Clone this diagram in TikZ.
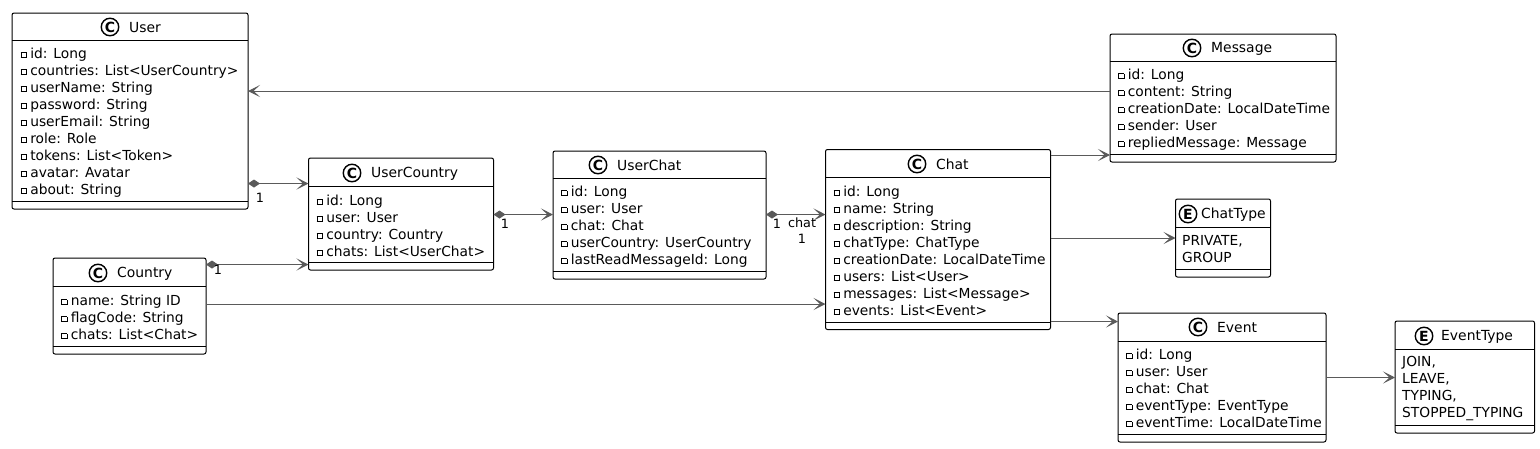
\documentclass[tikz,border=0pt]{standalone}
\usepackage{fontspec}
\setmainfont{DejaVu Sans}
\usetikzlibrary{arrows.meta}
\definecolor{linkgray}{HTML}{5A5A5A}
\tikzset{classbox/.style = {draw, rounded corners = 2, line width = 1, inner sep = 0, outer sep = 0, anchor = north west}}
\tikzset{badge/.style = {draw, circle, line width = 1.4, inner sep = 0, minimum size = 17.5, font = \fontsize{14}{14}\selectfont\bfseries}}
\tikzset{classname/.style = {anchor = west, inner sep = 0, font = \fontsize{13.9}{17}\selectfont}}
\tikzset{members/.style = {anchor = north west, inner sep = 0, align = left, font = \fontsize{13.8}{17}\selectfont}}
\tikzset{multi/.style = {inner sep = 0, font = \fontsize{12.8}{13}\selectfont}}
\tikzset{sep/.style = {line width = 1}}
\tikzset{assoc/.style = {linkgray, line width = 1, -{Stealth[length = 12, width = 12, inset = 6.5]}}}
\tikzset{owns/.style = {linkgray, line width = 1, {Diamond[length = 12, width = 8]}-{Stealth[length = 12, width = 12, inset = 6.5]}}}
\newcommand{\mbr}{\raisebox{1pt}{\setlength{\fboxsep}{0pt}\setlength{\fboxrule}{0.8pt}\fbox{\hspace{4.6pt}\rule{0pt}{4.2pt}}}\hspace{3.4pt}}

\begin{document}
\begin{tikzpicture}[x = 1pt, y = -1pt]
    \fill [white] (0, 0) rectangle (1540, 448);

    \node [classbox, minimum width = 236, minimum height = 196] (User) at (12, 13) {};
    \draw [sep] (User.west |- 0, 40) -- (User.east |- 0, 40);
    \draw [sep] (User.west |- 0, 201) -- (User.east |- 0, 201);
    \node [badge] (UserMark) at (110, 27) {C};
    \node [classname] (UserName) at (129, 27.5) {User};
    \node [members] (UserFields) at (20.5, 47.5) {\mbr id: Long\\ \mbr countries: List<UserCountry>\\ \mbr userName: String\\ \mbr password: String\\ \mbr userEmail: String\\ \mbr role: Role\\ \mbr tokens: List<Token>\\ \mbr avatar: Avatar\\ \mbr about: String};

    \node [classbox, minimum width = 185, minimum height = 112] (UserCountry) at (308.5, 158) {};
    \draw [sep] (UserCountry.west |- 0, 186) -- (UserCountry.east |- 0, 186);
    \draw [sep] (UserCountry.west |- 0, 262) -- (UserCountry.east |- 0, 262);
    \node [badge] (UserCountryMark) at (352, 173) {C};
    \node [classname] (UserCountryName) at (371, 173.5) {UserCountry};
    \node [members] (UserCountryFields) at (316.5, 194.5) {\mbr id: Long\\ \mbr user: User\\ \mbr country: Country\\ \mbr chats: List<UserChat>};

    \node [classbox, minimum width = 153, minimum height = 96] (Country) at (53, 258) {};
    \draw [sep] (Country.west |- 0, 286) -- (Country.east |- 0, 286);
    \draw [sep] (Country.west |- 0, 346) -- (Country.east |- 0, 346);
    \node [badge] (CountryMark) at (98, 273) {C};
    \node [classname] (CountryName) at (117, 273.5) {Country};
    \node [members] (CountryFields) at (61, 294.5) {\mbr name: String ID\\ \mbr flagCode: String\\ \mbr chats: List<Chat>};

    \node [classbox, minimum width = 213, minimum height = 128] (UserChat) at (553, 151) {};
    \draw [sep] (UserChat.west |- 0, 178) -- (UserChat.east |- 0, 178);
    \draw [sep] (UserChat.west |- 0, 271) -- (UserChat.east |- 0, 271);
    \node [badge] (UserChatMark) at (598, 165) {C};
    \node [classname] (UserChatName) at (617, 165.5) {UserChat};
    \node [members] (UserChatFields) at (561, 185.5) {\mbr id: Long\\ \mbr user: User\\ \mbr chat: Chat\\ \mbr userCountry: UserCountry\\ \mbr lastReadMessageId: Long};

    \node [classbox, minimum width = 225, minimum height = 180] (Chat) at (825.5, 149.5) {};
    \draw [sep] (Chat.west |- 0, 177) -- (Chat.east |- 0, 177);
    \draw [sep] (Chat.west |- 0, 322) -- (Chat.east |- 0, 322);
    \node [badge] (ChatMark) at (917, 164) {C};
    \node [classname] (ChatName) at (936, 164.5) {Chat};
    \node [members] (ChatFields) at (833.5, 185.5) {\mbr id: Long\\ \mbr name: String\\ \mbr description: String\\ \mbr chatType: ChatType\\ \mbr creationDate: LocalDateTime\\ \mbr users: List<User>\\ \mbr messages: List<Message>\\ \mbr events: List<Event>};

    \node [classbox, minimum width = 226, minimum height = 128] (Message) at (1110, 34) {};
    \draw [sep] (Message.west |- 0, 61) -- (Message.east |- 0, 61);
    \draw [sep] (Message.west |- 0, 154) -- (Message.east |- 0, 154);
    \node [badge] (MessageMark) at (1192, 48) {C};
    \node [classname] (MessageName) at (1211, 48.5) {Message};
    \node [members] (MessageFields) at (1118, 68.5) {\mbr id: Long\\ \mbr content: String\\ \mbr creationDate: LocalDateTime\\ \mbr sender: User\\ \mbr repliedMessage: Message};

    \node [classbox, minimum width = 95, minimum height = 78] (ChatType) at (1175.5, 199) {};
    \draw [sep] (ChatType.west |- 0, 227) -- (ChatType.east |- 0, 227);
    \draw [sep] (ChatType.west |- 0, 269) -- (ChatType.east |- 0, 269);
    \node [badge] (ChatTypeMark) at (1188, 214) {E};
    \node [classname] (ChatTypeName) at (1201, 214.5) {ChatType};
    \node [members] (ChatTypeFields) at (1182, 235.5) {PRIVATE,\\ GROUP};

    \node [classbox, minimum width = 208, minimum height = 129] (Event) at (1118, 313) {};
    \draw [sep] (Event.west |- 0, 341) -- (Event.east |- 0, 341);
    \draw [sep] (Event.west |- 0, 434) -- (Event.east |- 0, 434);
    \node [badge] (EventMark) at (1198, 327) {C};
    \node [classname] (EventName) at (1217, 327.5) {Event};
    \node [members] (EventFields) at (1126, 348.5) {\mbr id: Long\\ \mbr user: User\\ \mbr chat: Chat\\ \mbr eventType: EventType\\ \mbr eventTime: LocalDateTime};

    \node [classbox, minimum width = 139.5, minimum height = 112] (EventType) at (1395, 321) {};
    \draw [sep] (EventType.west |- 0, 349) -- (EventType.east |- 0, 349);
    \draw [sep] (EventType.west |- 0, 425) -- (EventType.east |- 0, 425);
    \node [badge] (EventTypeMark) at (1424, 336) {E};
    \node [classname] (EventTypeName) at (1441, 336.5) {EventType};
    \node [members] (EventTypeFields) at (1402, 356.5) {JOIN,\\ LEAVE,\\ TYPING,\\ STOPPED\_TYPING};

    \draw [assoc] (Message.west |- 0, 91) -- (User.east |- 0, 91);
    \draw [owns] (User.east |- 0, 183.5) -- (UserCountry.west |- 0, 183.5);
    \draw [owns] (Country.east |- 0, 264.5) -- (UserCountry.west |- 0, 264.5);
    \draw [assoc] (Country.east |- 0, 304) -- (Chat.west |- 0, 304);
    \draw [owns] (UserCountry.east |- 0, 214.5) -- (UserChat.west |- 0, 214.5);
    \draw [owns] (UserChat.east |- 0, 214.5) -- (Chat.west |- 0, 214.5);
    \draw [assoc] (Chat.east |- 0, 155) -- (Message.west |- 0, 155);
    \draw [assoc] (Chat.east |- 0, 238) -- (ChatType.west |- 0, 238);
    \draw [assoc] (Chat.east |- 0, 321.5) -- (Event.west |- 0, 321.5);
    \draw [assoc] (Event.east |- 0, 377.5) -- (EventType.west |- 0, 377.5);

    \node [multi] (UserOne) at (260, 198) {1};
    \node [multi] (CountryOne) at (218, 270) {1};
    \node [multi] (UserCountryOne) at (505, 224) {1};
    \node [multi] (UserChatOne) at (777, 224) {1};
    \node [multi] (ChatRole) at (802, 223) {chat};
    \node [multi] (ChatOne) at (802, 239) {1};
\end{tikzpicture}
\end{document}
